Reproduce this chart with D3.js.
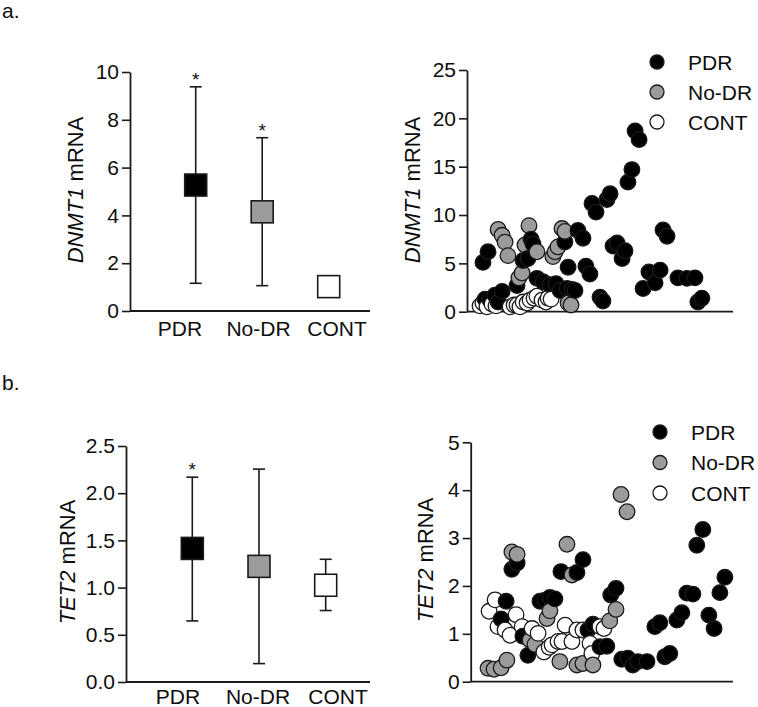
<!DOCTYPE html>
<html><head><meta charset="utf-8">
<script src="https://cdn.jsdelivr.net/npm/d3@7"></script>
<style>
body{margin:0;background:#fff;}
svg{display:block;}
text{font-family:"Liberation Sans",Arial,Helvetica,sans-serif;fill:#0d0d0d;}
</style>
</head><body>
<svg id="chart" width="758" height="707"></svg>
<script>
// ---------- data ----------
const groups = ["PDR", "No-DR", "CONT"];

// panel a, left: DNMT1 mean with range
const dnmt1Mean = [5.27, 4.15, 1.02];
const dnmt1Low  = [1.16, 1.06, 0.85];
const dnmt1High = [9.38, 7.25, 1.20];
const dnmt1Star = [true, true, false];
const dnmt1BoxTicks = [0, 2, 4, 6, 8, 10];

// panel b, left: TET2 mean with range
const tet2Mean = [1.415, 1.225, 1.025];
const tet2Low  = [0.647, 0.195, 0.757];
const tet2High = [2.17, 2.255, 1.30];
const tet2Star = [true, false, false];
const tet2BoxTicks = [0, 0.5, 1.0, 1.5, 2.0, 2.5];

// panel a, right: DNMT1 per sample [sample position, value]
const dnmt1PDR = [[6.0,5.1],[7.9,6.2],[8.6,1.2],[10.5,1.7],[11.7,1.0],[13.2,2.1],[6.8,1.3],[18.8,2.7],[21.1,5.3],[22.9,5.5],[24.1,7.5],[24.8,7.0],[26.3,3.45],[28.6,3.1],[31.2,2.8],[33.5,2.9],[37.6,2.4],[36.8,7.2],[38.0,4.6],[39.5,2.3],[40.6,2.2],[35.0,2.2],[41.7,8.4],[43.6,7.6],[44.7,4.7],[46.2,3.9],[47.0,11.2],[48.5,10.3],[50.0,1.5],[51.1,1.1],[52.6,11.6],[53.8,12.2],[54.9,6.8],[56.4,7.1],[59.4,6.3],[58.3,5.5],[60.5,13.4],[62.0,14.7],[63.2,18.7],[64.7,17.8],[66.2,2.4],[68.4,4.1],[70.7,3.0],[72.6,4.3],[73.7,8.45],[75.2,7.8],[79.3,3.5],[82.7,3.45],[85.7,3.5],[86.8,1.0],[88.3,1.4]];
const dnmt1NoDR = [[11.7,8.5],[13.2,7.9],[14.3,7.2],[15.4,5.8],[19.5,3.5],[20.7,4.0],[21.8,6.9],[23.3,8.9],[26.3,6.2],[32.3,5.7],[33.1,6.2],[34.2,6.7],[35.7,8.6],[36.8,8.3],[38.0,0.9],[39.1,0.7]];
const dnmt1CONT = [[4.9,0.6],[6.0,0.9],[7.5,0.5],[9.4,0.8],[10.9,0.6],[16.2,0.5],[17.7,0.7],[18.8,0.7],[19.9,0.5],[21.1,1.0],[22.6,0.9],[23.7,1.2],[25.2,1.4],[26.3,1.6],[28.2,1.2],[29.7,1.0],[30.5,1.4],[31.6,1.3]];
const dnmt1ScatterTicks = [0, 5, 10, 15, 20, 25];

// panel b, right: TET2 per sample [sample position, value]
const tet2PDR = [[15.7,2.35],[17.7,2.48],[13.5,1.68],[11.6,1.31],[19.9,0.95],[21.8,0.55],[26.4,1.68],[28.3,1.70],[30.2,1.76],[32.1,1.73],[34.4,2.30],[40.5,2.28],[42.8,2.55],[44.7,1.08],[46.6,1.20],[49.3,0.73],[51.9,0.74],[53.4,1.81],[55.4,1.95],[57.6,0.47],[59.9,0.49],[61.8,0.35],[63.7,0.42],[67.2,0.42],[70.2,1.15],[72.1,1.23],[74.0,0.52],[75.9,0.59],[78.6,1.29],[80.5,1.44],[82.4,1.85],[84.7,1.83],[86.2,2.85],[88.5,3.18],[90.8,1.39],[92.8,1.11],[95.0,1.86],[96.9,2.18]];
const tet2NoDR = [[6.6,0.28],[8.9,0.26],[11.6,0.29],[13.8,0.45],[15.7,2.71],[17.7,2.66],[22.6,0.87],[24.5,0.78],[29.1,1.32],[30.2,1.48],[34.0,0.42],[36.7,2.87],[38.6,2.23],[40.5,0.35],[42.8,0.38],[46.6,0.35],[53.0,1.27],[55.4,1.51],[57.3,3.91],[59.6,3.55]];
const tet2CONT = [[7.0,1.47],[9.3,1.71],[10.4,1.15],[13.1,1.08],[15.0,0.97],[17.3,1.40],[19.6,1.15],[23.4,1.11],[25.7,1.01],[27.9,0.62],[29.9,0.72],[31.0,0.77],[33.3,0.84],[34.8,0.84],[36.0,1.18],[38.6,0.84],[40.5,1.08],[42.8,1.08],[45.5,0.80],[46.2,0.59],[49.3,1.15],[50.8,1.11]];
const tet2ScatterTicks = [0, 1, 2, 3, 4, 5];

// ---------- styles ----------
const fills = {"PDR": "#000000", "No-DR": "#9b9b9b", "CONT": "#ffffff"};
const STROKE = "#1a1a1a";
const FONT = 21;
const TITLE_FONT = 22;

const svg = d3.select("#chart");

function styleAxis(g) {
  g.select(".domain").attr("stroke", STROKE).attr("stroke-width", 1.8);
  g.selectAll(".tick line").attr("stroke", STROKE).attr("stroke-width", 1.6);
  g.selectAll(".tick text").attr("font-size", FONT).attr("fill", "#0d0d0d")
    .attr("font-family", '"Liberation Sans",Arial,sans-serif');
}

function yTitle(x, y, italicPart, rest) {
  const t = svg.append("text")
    .attr("transform", `translate(${x},${y}) rotate(-90)`)
    .attr("text-anchor", "middle")
    .attr("font-size", TITLE_FONT);
  t.append("tspan").attr("font-style", "italic").text(italicPart);
  t.append("tspan").text(rest);
}

function boxPanel(c) {
  const y = d3.scaleLinear().domain(c.domain).range(c.yRange);
  const xm = d3.scalePoint().domain(groups).range(c.markRange);
  const xl = d3.scalePoint().domain(groups).range(c.labelRange);

  const ya = svg.append("g").attr("transform", `translate(${c.axisX},0)`)
    .call(d3.axisLeft(y).tickValues(c.ticks).tickFormat(c.fmt).tickSize(8).tickSizeOuter(0).tickPadding(3));
  styleAxis(ya);

  svg.append("line").attr("x1", c.axisX).attr("x2", c.axisRight)
    .attr("y1", y(0)).attr("y2", y(0)).attr("stroke", STROKE).attr("stroke-width", 1.8);

  // category labels
  svg.append("g").selectAll("text").data(groups).join("text")
    .attr("x", d => xl(d)).attr("y", y(0) + c.labelDy)
    .attr("text-anchor", "middle").attr("font-size", FONT).text(d => d);

  const cap = 6, half = 11;
  groups.forEach((gname, i) => {
    const cx = xm(gname);
    const g = svg.append("g");
    g.append("line").attr("x1", cx).attr("x2", cx).attr("y1", y(c.low[i])).attr("y2", y(c.high[i]))
      .attr("stroke", STROKE).attr("stroke-width", 1.6);
    [c.low[i], c.high[i]].forEach(v => {
      g.append("line").attr("x1", cx - cap).attr("x2", cx + cap).attr("y1", y(v)).attr("y2", y(v))
        .attr("stroke", STROKE).attr("stroke-width", 1.6);
    });
    g.append("rect").attr("x", cx - half).attr("y", y(c.mean[i]) - half)
      .attr("width", 2 * half).attr("height", 2 * half)
      .attr("fill", fills[gname]).attr("stroke", STROKE).attr("stroke-width", 1.6);
    if (c.star[i]) {
      g.append("text").attr("x", cx).attr("y", y(c.high[i]) - 1)
        .attr("text-anchor", "middle").attr("font-size", 19).text("*");
    }
  });
  yTitle(c.titleX, c.titleY, c.italic, c.rest);
}

function scatterPanel(c) {
  const y = d3.scaleLinear().domain(c.domain).range(c.yRange);
  const x = d3.scaleLinear().domain([0, 100]).range([c.axisX, c.axisRight]);

  const ya = svg.append("g").attr("transform", `translate(${c.axisX},0)`)
    .call(d3.axisLeft(y).tickValues(c.ticks).tickFormat(d3.format("d")).tickSize(8).tickSizeOuter(0).tickPadding(3));
  styleAxis(ya);
  svg.append("line").attr("x1", c.axisX).attr("x2", c.axisRight)
    .attr("y1", y(0)).attr("y2", y(0)).attr("stroke", STROKE).attr("stroke-width", 1.8);

  const pts = [];
  groups.forEach((gname, i) => c.series[i].forEach(d => pts.push({g: gname, x: d[0], v: d[1]})));
  pts.sort((a, b) => a.x - b.x);
  svg.append("g").selectAll("circle").data(pts).join("circle")
    .attr("cx", d => x(d.x)).attr("cy", d => y(d.v)).attr("r", 7.8)
    .attr("fill", d => fills[d.g]).attr("stroke", STROKE).attr("stroke-width", 1.3);

  const lg = svg.append("g");
  groups.forEach((gname, i) => {
    const ly = c.legendY + i * c.legendStep;
    lg.append("circle").attr("cx", c.legendX).attr("cy", ly).attr("r", 7)
      .attr("fill", fills[gname]).attr("stroke", STROKE).attr("stroke-width", 1.3);
    lg.append("text").attr("x", c.legendX + 31).attr("y", ly + 7.5)
      .attr("font-size", FONT).text(gname);
  });
  yTitle(c.titleX, c.titleY, c.italic, c.rest);
}

// panel labels
svg.append("text").attr("x", 2).attr("y", 18).attr("font-size", 21).text("a.");
svg.append("text").attr("x", 2).attr("y", 390).attr("font-size", 21).text("b.");

boxPanel({domain: [0, 10], yRange: [311, 72], ticks: dnmt1BoxTicks, fmt: d3.format("d"),
  axisX: 130, axisRight: 370, markRange: [195.7, 328.7], labelRange: [180, 337], labelDy: 25,
  mean: dnmt1Mean, low: dnmt1Low, high: dnmt1High, star: dnmt1Star,
  titleX: 83, titleY: 190, italic: "DNMT1", rest: " mRNA"});

boxPanel({domain: [0, 2.5], yRange: [682, 446], ticks: tet2BoxTicks, fmt: d3.format(".1f"),
  axisX: 126, axisRight: 370, markRange: [192.3, 325.7], labelRange: [178, 338], labelDy: 22,
  mean: tet2Mean, low: tet2Low, high: tet2High, star: tet2Star,
  titleX: 75, titleY: 562, italic: "TET2", rest: " mRNA"});

scatterPanel({domain: [0, 25], yRange: [311.7, 70], ticks: dnmt1ScatterTicks,
  axisX: 467, axisRight: 733, series: [dnmt1PDR, dnmt1NoDR, dnmt1CONT],
  legendX: 657, legendY: 62, legendStep: 30, titleX: 420, titleY: 190, italic: "DNMT1", rest: " mRNA"});

scatterPanel({domain: [0, 5], yRange: [681.7, 442.3], ticks: tet2ScatterTicks,
  axisX: 470.7, axisRight: 733, series: [tet2PDR, tet2NoDR, tet2CONT],
  legendX: 660, legendY: 432, legendStep: 30.5, titleX: 433, titleY: 560, italic: "TET2", rest: " mRNA"});
</script>
</body></html>
